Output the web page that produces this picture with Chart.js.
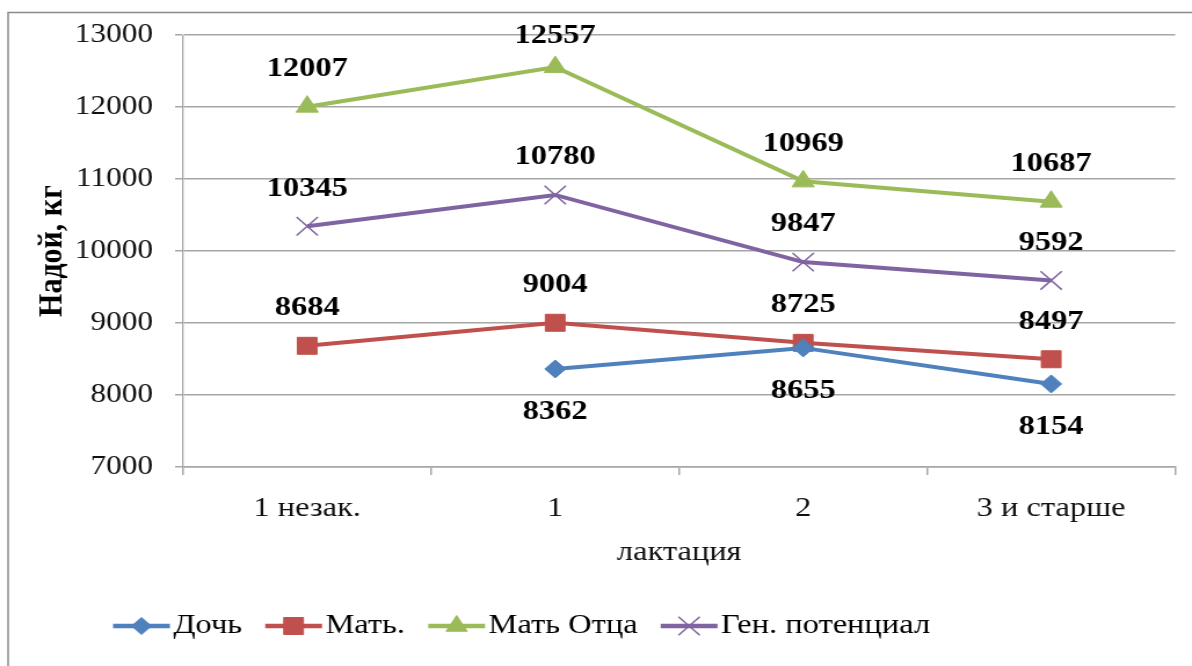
<!DOCTYPE html>
<html>
<head>
<meta charset="utf-8">
<script src="https://cdn.jsdelivr.net/npm/chart.js@4/dist/chart.umd.min.js"></script>
<style>
  html, body { margin: 0; padding: 0; background: #fff; overflow: hidden; }
  #wrap { width: 1028px; height: 666px; position: relative; transform: scaleX(1.1595); transform-origin: 0 0; }
</style>
</head>
<body>
<div id="wrap"><canvas id="c" width="1028" height="666"></canvas></div>
<script>
const categories = ['1 незак.', '1', '2', '3 и старше'];
const seriesNames = ['Дочь', 'Мать.', 'Мать Отца', 'Ген. потенциал'];
const doch = [null, 8362, 8655, 8154];
const mat = [8684, 9004, 8725, 8497];
const matOtca = [12007, 12557, 10969, 10687];
const genPot = [10345, 10780, 9847, 9592];
const yMin = 7000, yMax = 13000, yStep = 1000;
const xTitle = 'лактация';
const yTitle = 'Надой, кг';

const FONT = '"Liberation Serif", "Times New Roman", serif';

function mk(label, data, color, style, radius, legendRadius, below) {
  return {
    label, data,
    borderColor: color,
    backgroundColor: color,
    borderWidth: 4,
    pointStyle: style,
    pointRadius: radius,
    pointHoverRadius: radius,
    pointBorderWidth: style === 'crossRot' ? 1.5 : 1,
    pointBorderColor: color,
    pointBackgroundColor: color,
    tension: 0,
    spanGaps: false,
    legendRadius,
    labelBelow: below
  };
}

const datasets = [
  mk(seriesNames[0], doch, '#4F81BD', 'rectRot', 9, 8.5, true),
  mk(seriesNames[1], mat, '#C0504D', 'rect', 12, 12, false),
  mk(seriesNames[2], matOtca, '#9BBB59', 'triangle', 11, 10.5, false),
  mk(seriesNames[3], genPot, '#8064A2', 'crossRot', 13, 13, false)
];

const framePlugin = {
  id: 'frame',
  beforeDraw(chart) {
    const ctx = chart.ctx;
    ctx.save();
    ctx.fillStyle = '#fff';
    ctx.fillRect(0, 0, chart.width, chart.height);
    ctx.strokeStyle = '#8a8a8a';
    ctx.lineWidth = 1.5;
    ctx.strokeRect(7, 12.5, 1300, 800);
    ctx.restore();
  }
};

const labelPlugin = {
  id: 'valueLabels',
  afterDatasetsDraw(chart) {
    const ctx = chart.ctx;
    const top = chart.chartArea.top;
    ctx.save();
    ctx.font = 'bold 28px ' + FONT;
    ctx.fillStyle = '#000';
    ctx.textAlign = 'center';
    ctx.textBaseline = 'middle';
    chart.data.datasets.forEach((ds, i) => {
      const meta = chart.getDatasetMeta(i);
      meta.data.forEach((pt, j) => {
        const v = ds.data[j];
        if (v === null || v === undefined) return;
        const dy = ds.labelBelow ? 43 : -38;
        const ly = Math.max(pt.y + dy, top + 1);
        ctx.fillText(String(v), pt.x, ly);
      });
    });
    ctx.restore();
  }
};

const legendPlugin = {
  id: 'customLegend',
  afterDraw(chart) {
    const ctx = chart.ctx;
    ctx.save();
    ctx.font = '28px ' + FONT;
    ctx.textBaseline = 'middle';
    ctx.textAlign = 'left';
    let x = 97.5;
    const y = 626;
    const lineLen = 49;
    chart.data.datasets.forEach((ds) => {
      ctx.strokeStyle = ds.borderColor;
      ctx.lineWidth = 4.5;
      ctx.beginPath();
      ctx.moveTo(x, y);
      ctx.lineTo(x + lineLen, y);
      ctx.stroke();
      ctx.fillStyle = ds.pointBackgroundColor;
      ctx.strokeStyle = ds.pointBorderColor;
      ctx.lineWidth = ds.pointBorderWidth;
      Chart.helpers.drawPoint(ctx, {
        pointStyle: ds.pointStyle,
        radius: ds.legendRadius,
        borderWidth: ds.pointBorderWidth,
        rotation: 0
      }, x + lineLen / 2, y);
      ctx.fillStyle = '#000';
      ctx.fillText(ds.label, x + lineLen + 3, y);
      x += lineLen + 3 + ctx.measureText(ds.label).width + 20;
    });
    ctx.restore();
  }
};

new Chart(document.getElementById('c'), {
  type: 'line',
  data: { labels: categories, datasets },
  plugins: [framePlugin, labelPlugin, legendPlugin],
  options: {
    responsive: false,
    animation: false,
    events: [],
    layout: { padding: { left: 0, top: 33, right: 13, bottom: 0 } },
    plugins: {
      legend: { display: false },
      tooltip: { enabled: false },
      title: { display: false }
    },
    scales: {
      x: {
        type: 'category',
        offset: true,
        grid: {
          display: true,
          offset: true,
          drawOnChartArea: false,
          drawTicks: true,
          tickLength: 8,
          color: '#a6a6a6',
          lineWidth: 1.5
        },
        border: { display: true, color: '#a6a6a6', width: 1.5 },
        ticks: {
          color: '#111',
          font: { family: FONT, size: 28 },
          padding: 17,
          maxRotation: 0
        },
        title: {
          display: true,
          text: xTitle,
          color: '#111',
          font: { family: FONT, size: 28 },
          padding: { top: 0, bottom: 97 }
        },
        afterFit(scale) { scale.height = 199; }
      },
      y: {
        min: yMin,
        max: yMax,
        grid: {
          color: '#a6a6a6',
          lineWidth: 1.5,
          tickLength: 7,
          drawTicks: true
        },
        border: { display: true, color: '#a6a6a6', width: 1.3 },
        ticks: {
          stepSize: yStep,
          color: '#111',
          font: { family: FONT, size: 27 },
          padding: 19,
          callback: (v) => String(v)
        },
        title: {
          display: true,
          text: yTitle,
          color: '#000',
          font: { family: FONT, size: 30, weight: 'bold' },
          padding: { top: 27, bottom: 0 }
        },
        afterFit(scale) { scale.width = 158; }
      }
    }
  }
});
</script>
</body>
</html>
